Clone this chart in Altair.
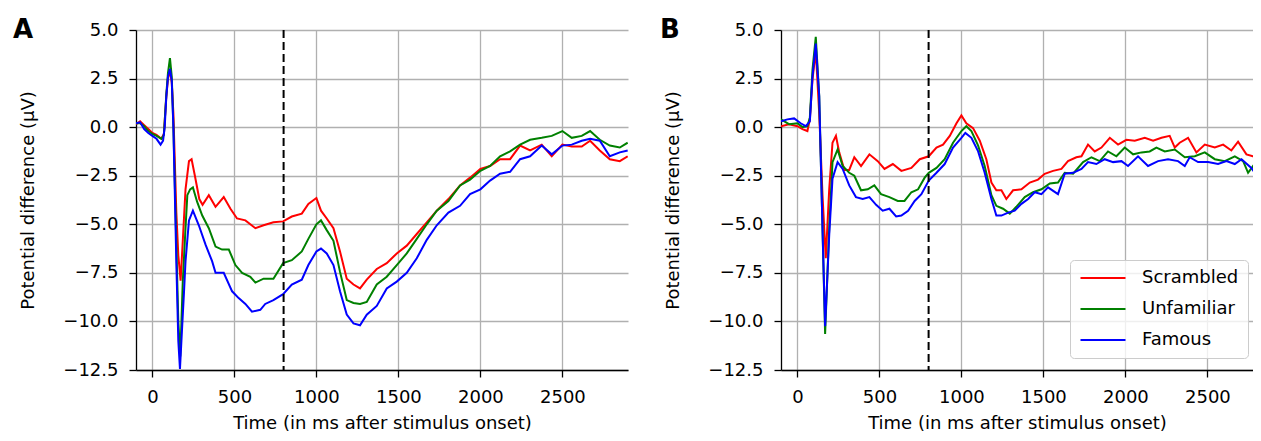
import altair as alt
import pandas as pd

CONDITIONS = ["Scrambled", "Unfamiliar", "Famous"]
COLORS = ["#ff0000", "#008000", "#0000ff"]
X_TICKS = [0, 500, 1000, 1500, 2000, 2500]
Y_TICKS = [-12.5, -10.0, -7.5, -5.0, -2.5, 0.0, 2.5, 5.0]

# ---------------- Panel A ----------------
a_scr_t = [-100, -75, -50, -25, 0, 25, 55, 70, 85, 95, 107, 118, 128, 146, 158, 172, 185, 202, 223, 239, 259,
           286, 306, 344, 385, 435, 476, 516, 567, 628, 678, 738, 797, 850, 911, 951, 1000, 1028, 1063, 1104,
           1144, 1185, 1226, 1266, 1307, 1368, 1429, 1490, 1551, 1612, 1673, 1734, 1805, 1876, 1937, 2000,
           2059, 2120, 2181, 2242, 2303, 2374, 2435, 2500, 2557, 2618, 2669, 2728, 2789, 2850, 2898]
a_scr_v = [0.15, 0.3, 0.1, -0.1, -0.3, -0.4, -0.6, -0.35, 1.6, 2.5, 2.9, 2.3, 0.7, -4.4, -6.6, -7.9, -5.9,
           -3.2, -1.75, -1.65, -2.5, -3.7, -4.0, -3.5, -4.1, -3.6, -4.2, -4.7, -4.8, -5.2, -5.05, -4.9, -4.85,
           -4.6, -4.45, -3.95, -3.65, -4.3, -4.7, -5.2, -6.4, -7.8, -8.1, -8.3, -7.85, -7.3, -7.0, -6.5, -6.1,
           -5.5, -4.9, -4.3, -3.7, -3.0, -2.6, -2.15, -2.0, -1.65, -1.65, -0.95, -1.2, -0.9, -1.5, -0.9, -1.0,
           -1.0, -0.7, -1.2, -1.65, -1.75, -1.5]

a_unf_t = [-100, -75, -50, -25, 0, 25, 55, 70, 85, 95, 107, 118, 128, 146, 158, 170, 185, 200, 213, 230, 247,
           273, 304, 344, 385, 425, 466, 506, 547, 597, 628, 678, 738, 797, 850, 911, 951, 1000, 1028, 1063,
           1104, 1144, 1185, 1226, 1266, 1307, 1368, 1429, 1490, 1551, 1612, 1673, 1734, 1805, 1876, 1937,
           2000, 2059, 2120, 2181, 2242, 2303, 2374, 2435, 2500, 2557, 2618, 2669, 2728, 2789, 2850, 2898]
a_unf_v = [0.2, 0.2, 0.05, -0.2, -0.35, -0.45, -0.6, -0.4, 1.7, 2.8, 3.55, 2.6, 0.0, -6.0, -10.0, -11.8, -8.0,
           -5.5, -3.5, -3.2, -3.1, -3.85, -4.55, -5.2, -6.15, -6.3, -6.3, -7.1, -7.5, -7.7, -8.0, -7.8, -7.8,
           -7.0, -6.85, -6.4, -5.75, -5.0, -4.8, -5.3, -5.85, -7.45, -8.9, -9.05, -9.1, -9.0, -8.1, -7.7, -7.1,
           -6.5, -5.75, -5.0, -4.3, -3.8, -3.0, -2.7, -2.25, -2.0, -1.5, -1.25, -0.9, -0.65, -0.55, -0.45,
           -0.2, -0.55, -0.45, -0.2, -0.65, -0.95, -1.05, -0.8]

a_fam_t = [-100, -75, -50, -25, 0, 25, 50, 65, 75, 85, 95, 107, 118, 128, 146, 158, 168, 180, 192, 202, 223,
           247, 283, 324, 364, 385, 435, 486, 526, 567, 607, 658, 688, 738, 797, 850, 911, 951, 1000, 1028,
           1063, 1104, 1144, 1185, 1226, 1266, 1307, 1368, 1429, 1490, 1551, 1612, 1673, 1734, 1805, 1876,
           1937, 2000, 2059, 2120, 2181, 2242, 2303, 2374, 2435, 2500, 2557, 2618, 2669, 2728, 2789, 2850,
           2898]
a_fam_v = [0.2, 0.25, -0.1, -0.3, -0.45, -0.6, -0.9, -0.7, 0.0, 1.6, 2.6, 3.0, 2.4, 0.0, -7.0, -11.0, -12.45,
           -10.5, -8.6, -6.9, -4.8, -4.3, -5.05, -6.05, -6.9, -7.5, -7.5, -8.45, -8.8, -9.1, -9.5, -9.4, -9.1,
           -8.9, -8.6, -8.1, -7.85, -7.1, -6.4, -6.25, -6.5, -7.1, -8.45, -9.65, -10.1, -10.2, -9.65, -9.2,
           -8.3, -7.95, -7.5, -6.75, -5.8, -5.05, -4.4, -4.05, -3.45, -3.2, -2.75, -2.4, -2.3, -1.65, -1.5,
           -0.95, -1.4, -0.95, -0.9, -0.7, -0.6, -0.7, -1.5, -1.3, -1.2]

# ---------------- Panel B ----------------
b_scr_t = [-100, -51, 0, 31, 61, 76, 92, 112, 133, 153, 173, 194, 214, 235, 255, 286, 316, 347, 388, 439, 490,
           531, 582, 634, 695, 746, 801, 848, 888, 929, 970, 1000, 1030, 1071, 1112, 1152, 1183, 1213, 1244,
           1274, 1315, 1366, 1417, 1467, 1508, 1559, 1610, 1650, 1701, 1732, 1772, 1813, 1854, 1905, 1955,
           2006, 2057, 2118, 2169, 2220, 2270, 2301, 2331, 2382, 2433, 2484, 2545, 2596, 2646, 2687, 2738,
           2778, 2820]
b_scr_v = [0.05, 0.15, 0.05, -0.1, -0.2, 0.4, 2.45, 3.95, 0.7, -3.5, -6.75, -3.2, -0.8, -0.45, -1.3, -2.2,
           -2.2, -1.55, -2.0, -1.4, -1.75, -2.15, -1.9, -2.25, -2.1, -1.65, -1.5, -1.05, -0.9, -0.45, 0.2, 0.6,
           0.2, -0.05, -0.7, -1.65, -2.85, -3.25, -3.25, -3.7, -3.25, -3.2, -2.85, -2.7, -2.4, -2.25, -2.15,
           -1.75, -1.55, -1.5, -0.9, -1.25, -1.05, -0.55, -0.9, -0.65, -0.7, -0.55, -0.7, -0.55, -0.45, -1.05,
           -0.8, -0.55, -1.3, -0.9, -1.05, -0.9, -1.2, -0.75, -1.4, -1.5, -1.75]

b_unf_t = [-100, -51, 0, 31, 61, 76, 92, 112, 133, 153, 169, 194, 214, 245, 276, 316, 347, 388, 429, 469, 510,
           561, 612, 653, 695, 736, 776, 801, 848, 898, 949, 1000, 1030, 1061, 1102, 1142, 1183, 1213, 1254,
           1295, 1335, 1386, 1437, 1488, 1539, 1589, 1630, 1681, 1742, 1793, 1843, 1894, 1945, 1996, 2047,
           2098, 2148, 2189, 2240, 2301, 2362, 2423, 2484, 2545, 2606, 2667, 2718, 2748, 2778, 2820]
b_unf_v = [0.4, 0.15, 0.2, 0.0, 0.05, 0.5, 2.95, 4.65, 1.6, -5.2, -10.65, -5.2, -1.8, -1.15, -2.0, -2.35,
           -2.5, -3.25, -3.2, -3.0, -3.45, -3.6, -3.8, -3.8, -3.35, -3.2, -2.6, -2.35, -2.1, -1.65, -0.8, -0.2,
           0.05, -0.2, -0.95, -2.0, -3.5, -4.05, -4.2, -4.45, -4.1, -3.6, -3.35, -3.2, -2.9, -2.85, -2.35,
           -2.4, -1.8, -1.55, -1.75, -1.25, -1.5, -1.05, -1.4, -1.3, -1.25, -1.05, -1.25, -1.15, -1.55, -1.5,
           -1.3, -1.65, -1.75, -1.5, -1.75, -2.35, -2.0, -2.4]

b_fam_t = [-100, -61, -20, 20, 51, 76, 92, 112, 133, 153, 169, 194, 214, 245, 276, 316, 357, 398, 439, 480,
           520, 561, 602, 634, 675, 715, 756, 801, 848, 898, 949, 1000, 1024, 1061, 1102, 1142, 1183, 1213,
           1244, 1285, 1325, 1366, 1407, 1447, 1488, 1528, 1589, 1630, 1681, 1732, 1772, 1823, 1874, 1925,
           1976, 2016, 2077, 2138, 2199, 2260, 2321, 2362, 2392, 2443, 2504, 2565, 2616, 2667, 2708, 2768,
           2809, 2820]
b_fam_v = [0.3, 0.4, 0.45, 0.2, 0.05, 0.3, 2.6, 4.3, 1.6, -5.2, -10.25, -5.55, -2.65, -1.8, -2.15, -3.0,
           -3.6, -3.7, -3.6, -4.0, -4.3, -4.2, -4.6, -4.55, -4.3, -3.8, -3.45, -2.75, -2.35, -1.9, -1.05,
           -0.55, -0.3, -0.55, -1.25, -2.35, -3.7, -4.55, -4.55, -4.4, -4.3, -3.95, -3.7, -3.35, -3.45, -3.1,
           -3.45, -2.4, -2.35, -2.15, -1.8, -1.9, -1.65, -1.8, -1.75, -2.0, -1.5, -2.0, -1.75, -1.65, -1.75,
           -2.0, -1.55, -1.8, -1.8, -1.9, -1.75, -1.9, -1.65, -2.1, -2.6, -2.4]

ONSET_LINE = [800]

FONT = "DejaVu Sans"
PLOT_H = 340


def build_df(series):
    rows = []
    for cond, ts, vs in series:
        for t, v in zip(ts, vs):
            rows.append({"t": t, "v": v, "cond": cond})
    return pd.DataFrame(rows)


df_a = build_df([("Scrambled", a_scr_t, a_scr_v), ("Unfamiliar", a_unf_t, a_unf_v), ("Famous", a_fam_t, a_fam_v)])
df_b = build_df([("Scrambled", b_scr_t, b_scr_v), ("Unfamiliar", b_unf_t, b_unf_v), ("Famous", b_fam_t, b_fam_v)])


def panel(df, letter, xmax, width, legend):
    lines = alt.Chart(df).mark_line(strokeWidth=2, clip=True).encode(
        x=alt.X("t:Q",
                scale=alt.Scale(domain=[-100, xmax], nice=False, zero=False),
                axis=alt.Axis(values=X_TICKS, format="d", title="Time (in ms after stimulus onset)")),
        y=alt.Y("v:Q",
                scale=alt.Scale(domain=[-12.5, 5.0], nice=False, zero=False),
                axis=alt.Axis(values=Y_TICKS, format=".1f", title="Potential difference (µV)",
                              titleX=-103, titleBaseline="alphabetic")),
        color=alt.Color("cond:N", scale=alt.Scale(domain=CONDITIONS, range=COLORS), legend=legend),
    )
    rule = alt.Chart(pd.DataFrame({"t": ONSET_LINE})).mark_rule(
        color="black", strokeDash=[8, 4], strokeWidth=2
    ).encode(x="t:Q")
    label = alt.Chart(pd.DataFrame({"s": [letter]})).mark_text(
        align="left", baseline="alphabetic", fontSize=26, fontWeight="bold", font=FONT, color="black"
    ).encode(x=alt.value(-123 if letter == "A" else -121), y=alt.value(8), text="s:N")
    return alt.layer(lines, rule, label).properties(width=width, height=PLOT_H)


legend_b = alt.Legend(
    title=None, orient="none", legendX=289, legendY=230,
    symbolType="M-3,0H3", symbolSize=225, symbolStrokeWidth=2, symbolOffset=15,
    labelFontSize=18, labelFont=FONT, labelColor="black", labelOffset=30,
    rowPadding=13, padding=9, strokeColor="#cccccc", fillColor="rgba(255,255,255,0.8)",
    cornerRadius=4,
)

chart_a = panel(df_a, "A", 2900, 492, None)
chart_b = panel(df_b, "B", 2778, 472, legend_b)

chart = alt.hconcat(chart_a, chart_b, spacing=32).resolve_scale(color="independent").properties(
    padding={"left": 5, "top": 9, "right": 0, "bottom": 0}
).configure(
    font=FONT, background="white"
).configure_view(stroke=None).configure_axis(
    domainColor="black", domainWidth=1.3, tickColor="black", tickWidth=1.3, tickSize=7,
    gridColor="#b0b0b0", gridWidth=1.3,
    labelFont=FONT, labelFontSize=18, labelColor="black",
    titleFont=FONT, titleFontSize=18, titleFontWeight="normal", titleColor="black",
).configure_axisX(labelPadding=11, titlePadding=8).configure_axisY(labelPadding=11)

chart.save("out.html", embed_options={"renderer": "svg", "actions": False})
